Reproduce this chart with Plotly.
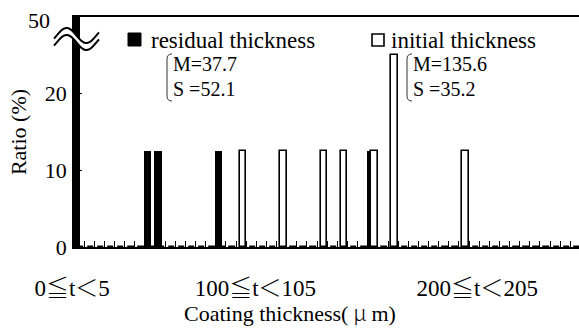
import math
import plotly.graph_objects as go

# ---- data ----
bin_starts = list(range(0, 250, 5))            # 5 um bins: 0<=t<5 ... 245<=t<250
residual = [0.0] * 50
initial = [0.0] * 50
residual_vals = {0: 50.0, 7: 12.5, 8: 12.5, 14: 12.5, 29: 12.5}
initial_vals = {16: 12.5, 20: 12.5, 24: 12.5, 26: 12.5, 29: 12.5, 31: 25.0, 38: 12.5}
for k, v in residual_vals.items():
    residual[k] = v
for k, v in initial_vals.items():
    initial[k] = v
cat_index = list(range(len(bin_starts)))
label_pos = [0.5, 18.6, 40.5]
label_parts = [("0", "5"), ("100", "105"), ("200", "205")]
ytick_vals = [0, 10, 20]
ytick_text = ["0", "10", "20"]
stats_res = ["M=37.7", "S =52.1"]
stats_ini = ["M=135.6", "S =35.2"]

FONT = "Liberation Serif, Times New Roman, serif"
CJK = "Noto Sans CJK JP"
W, H = 579, 328
ML, MT, MR, MB = 74, 17, 0, 81
PW, PH = W - ML - MR, H - MT - MB


def px(x):
    return (x - ML) / PW


def py(y):
    return (H - MB - y) / PH


def cj(s):
    return f"<span style='font-family:{CJK};font-weight:300'>{s}</span>"


label_text = [f"{a}{cj('≦')}t{cj('＜')}{b}" for a, b in label_parts]

fig = go.Figure()
fig.add_trace(go.Bar(x=cat_index, y=residual, name="residual thickness",
                     offset=-0.12, width=0.76,
                     marker=dict(color="black", line=dict(color="black", width=0))))
fig.add_trace(go.Bar(x=cat_index, y=initial, name="initial thickness",
                     offset=0.34, width=0.64,
                     marker=dict(color="white", line=dict(color="black", width=1.6))))

shapes = []
# axis break symbol
N = 30
up = []
for i in range(N + 1):
    t = i / N
    x = 54 + 45 * t
    y = 35.5 - 7.5 * math.sin(2 * math.pi * (t - 0.06) / 0.88)
    up.append((x, y))
low = [(x, y + 7) for x, y in up]
fill = "M " + " L ".join(f"{px(x):.5f},{py(y):.5f}" for x, y in up + low[::-1]) + " Z"
shapes.append(dict(type="path", xref="paper", yref="paper", path=fill,
                   fillcolor="white", line=dict(width=0), layer="above"))
for curve in (up, low):
    p = "M " + " L ".join(f"{px(x):.5f},{py(y):.5f}" for x, y in curve)
    shapes.append(dict(type="path", xref="paper", yref="paper", path=p,
                       line=dict(color="black", width=2), layer="above"))

# legend squares
shapes.append(dict(type="rect", xref="paper", yref="paper",
                   x0=px(128), x1=px(141), y0=py(46), y1=py(33),
                   fillcolor="black", line=dict(color="black", width=1)))
shapes.append(dict(type="rect", xref="paper", yref="paper",
                   x0=px(372), x1=px(384), y0=py(46), y1=py(34),
                   fillcolor="white", line=dict(color="black", width=1.6)))

# brackets for statistics
for bx in (167, 407):
    p = (f"M {px(bx+5):.5f},{py(54):.5f} Q {px(bx):.5f},{py(54):.5f} {px(bx):.5f},{py(59):.5f} "
         f"L {px(bx):.5f},{py(96):.5f} Q {px(bx):.5f},{py(101):.5f} {px(bx+5):.5f},{py(101):.5f}")
    shapes.append(dict(type="path", xref="paper", yref="paper", path=p,
                       line=dict(color="#333333", width=1)))

annotations = []
annotations.append(dict(text="residual thickness", xref="paper", yref="paper",
                        x=px(149), y=py(40), xanchor="left", yanchor="middle",
                        showarrow=False, font=dict(size=23, family=FONT, color="black")))
annotations.append(dict(text="initial thickness", xref="paper", yref="paper",
                        x=px(389), y=py(40), xanchor="left", yanchor="middle",
                        showarrow=False, font=dict(size=23, family=FONT, color="black")))
for bx, st in ((171, stats_res), (411, stats_ini)):
    for j, s in enumerate(st):
        annotations.append(dict(text=s, xref="paper", yref="paper",
                                x=px(bx), y=py(64 + 25 * j), xanchor="left", yanchor="middle",
                                showarrow=False, font=dict(size=20, family=FONT, color="black")))
annotations.append(dict(text="50", xref="paper", yref="y", x=0, y=30,
                        xanchor="right", yanchor="middle", xshift=-22, yshift=-3,
                        showarrow=False, font=dict(size=22, family=FONT, color="black")))
annotations.append(dict(text="Coating thickness(" + cj(" μ ") + "m)", xref="paper", yref="paper",
                        x=px(290), y=py(311), xanchor="center", yanchor="middle",
                        showarrow=False, font=dict(size=22, family=FONT, color="black")))

fig.update_layout(
    width=W, height=H,
    margin=dict(l=ML, r=MR, t=MT, b=MB, autoexpand=False),
    paper_bgcolor="white", plot_bgcolor="white",
    barmode="overlay", showlegend=False, bargap=0,
    font=dict(family=FONT, size=22, color="black"),
    shapes=shapes, annotations=annotations,
    xaxis=dict(range=[0, PW / 10.13], showline=True, linecolor="black", linewidth=1.5,
               mirror=True, showgrid=False, zeroline=False, automargin=False,
               tickmode="array", tickvals=label_pos, ticktext=label_text,
               ticks="", ticklabelstandoff=20, ticklabelshift=-7,
               tickfont=dict(size=23, family=FONT),
               minor=dict(tickmode="linear", tick0=0, dtick=1, ticks="inside",
                          ticklen=6, tickwidth=1, tickcolor="black", showgrid=False)),
    yaxis=dict(range=[0, 30], showline=True, linecolor="black", linewidth=1.5,
               mirror=False, showgrid=False, zeroline=False, automargin=False,
               tickmode="array", tickvals=ytick_vals, ticktext=ytick_text,
               ticks="inside", ticklen=8, tickwidth=1, tickcolor="black",
               ticklabelstandoff=1, tickfont=dict(size=22, family=FONT),
               title=dict(text="Ratio (%)", standoff=12, font=dict(size=22, family=FONT))),
)

fig.write_html("out.html", post_script="document.body.style.margin='0';",
               config={"displayModeBar": False})
